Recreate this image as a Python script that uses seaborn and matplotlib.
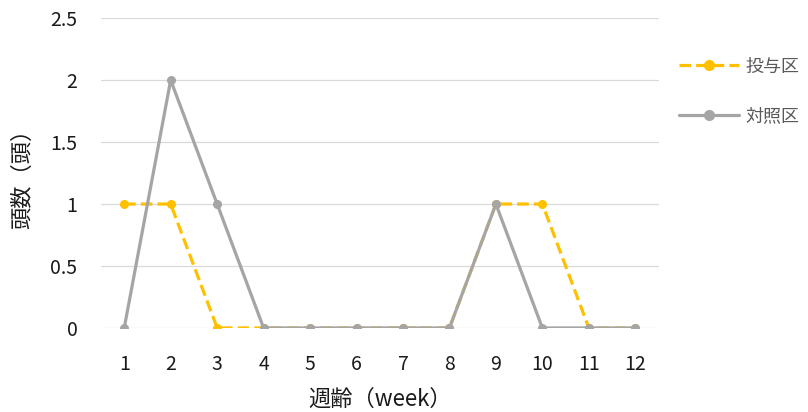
import matplotlib
matplotlib.use("Agg")
import matplotlib.pyplot as plt
import seaborn as sns
import pandas as pd

weeks = [1, 2, 3, 4, 5, 6, 7, 8, 9, 10, 11, 12]
treated = [1, 1, 0, 0, 0, 0, 0, 0, 1, 1, 0, 0]
control = [0, 2, 1, 0, 0, 0, 0, 0, 1, 0, 0, 0]
series_names = ["投与区", "対照区"]
y_ticks = [0, 0.5, 1, 1.5, 2, 2.5]
y_tick_labels = ["0", "0.5", "1", "1.5", "2", "2.5"]

sns.set_theme(style="white")
plt.rcParams["font.family"] = ["Noto Sans CJK JP", "DejaVu Sans"]

df = pd.DataFrame({
    "week": [str(w) for w in weeks] * 2,
    "count": treated + control,
    "group": [series_names[0]] * len(weeks) + [series_names[1]] * len(weeks),
})

fig = plt.figure(figsize=(8.08, 4.12), dpi=100)
ax = fig.add_axes([0.125, 0.204, 0.69, 0.752])

colors = {series_names[0]: "#FFC000", series_names[1]: "#A5A5A5"}
dashes = {series_names[0]: (3.6, 1.6), series_names[1]: ""}
markers = {series_names[0]: "o", series_names[1]: "o"}

sns.lineplot(data=df, x="week", y="count", hue="group", style="group",
             palette=colors, dashes=dashes, markers=markers,
             linewidth=2.3, markersize=6.5, markeredgewidth=0, sort=False, ax=ax)

ax.set_ylim(0, 2.5)
ax.set_xlim(-0.5, len(weeks) - 0.5)
ax.set_yticks(y_ticks)
ax.set_yticklabels(y_tick_labels)
ax.grid(axis="y", color="#D9D9D9", linewidth=0.9)
ax.grid(axis="x", visible=False)
ax.set_axisbelow(True)
for s in ax.spines.values():
    s.set_visible(False)
ax.tick_params(axis="both", length=0, labelsize=14, colors="#1a1a1a")
ax.tick_params(axis="y", pad=17)
ax.tick_params(axis="x", pad=19)
ax.set_xlabel("週齢（week）", fontsize=16, color="#1a1a1a", labelpad=9)
ax.set_ylabel("頭数（頭）", fontsize=16, color="#1a1a1a", labelpad=12)

handles, labels = ax.get_legend_handles_labels()
for h in handles:
    h.set_markersize(8)
leg = ax.legend(handles, labels, loc="upper left", bbox_to_anchor=(1.008, 0.925),
                frameon=False, fontsize=13, handlelength=3.3, labelspacing=1.75,
                handletextpad=0.35)
for t in leg.get_texts():
    t.set_color("#595959")

fig.savefig("out.png", dpi=100)
